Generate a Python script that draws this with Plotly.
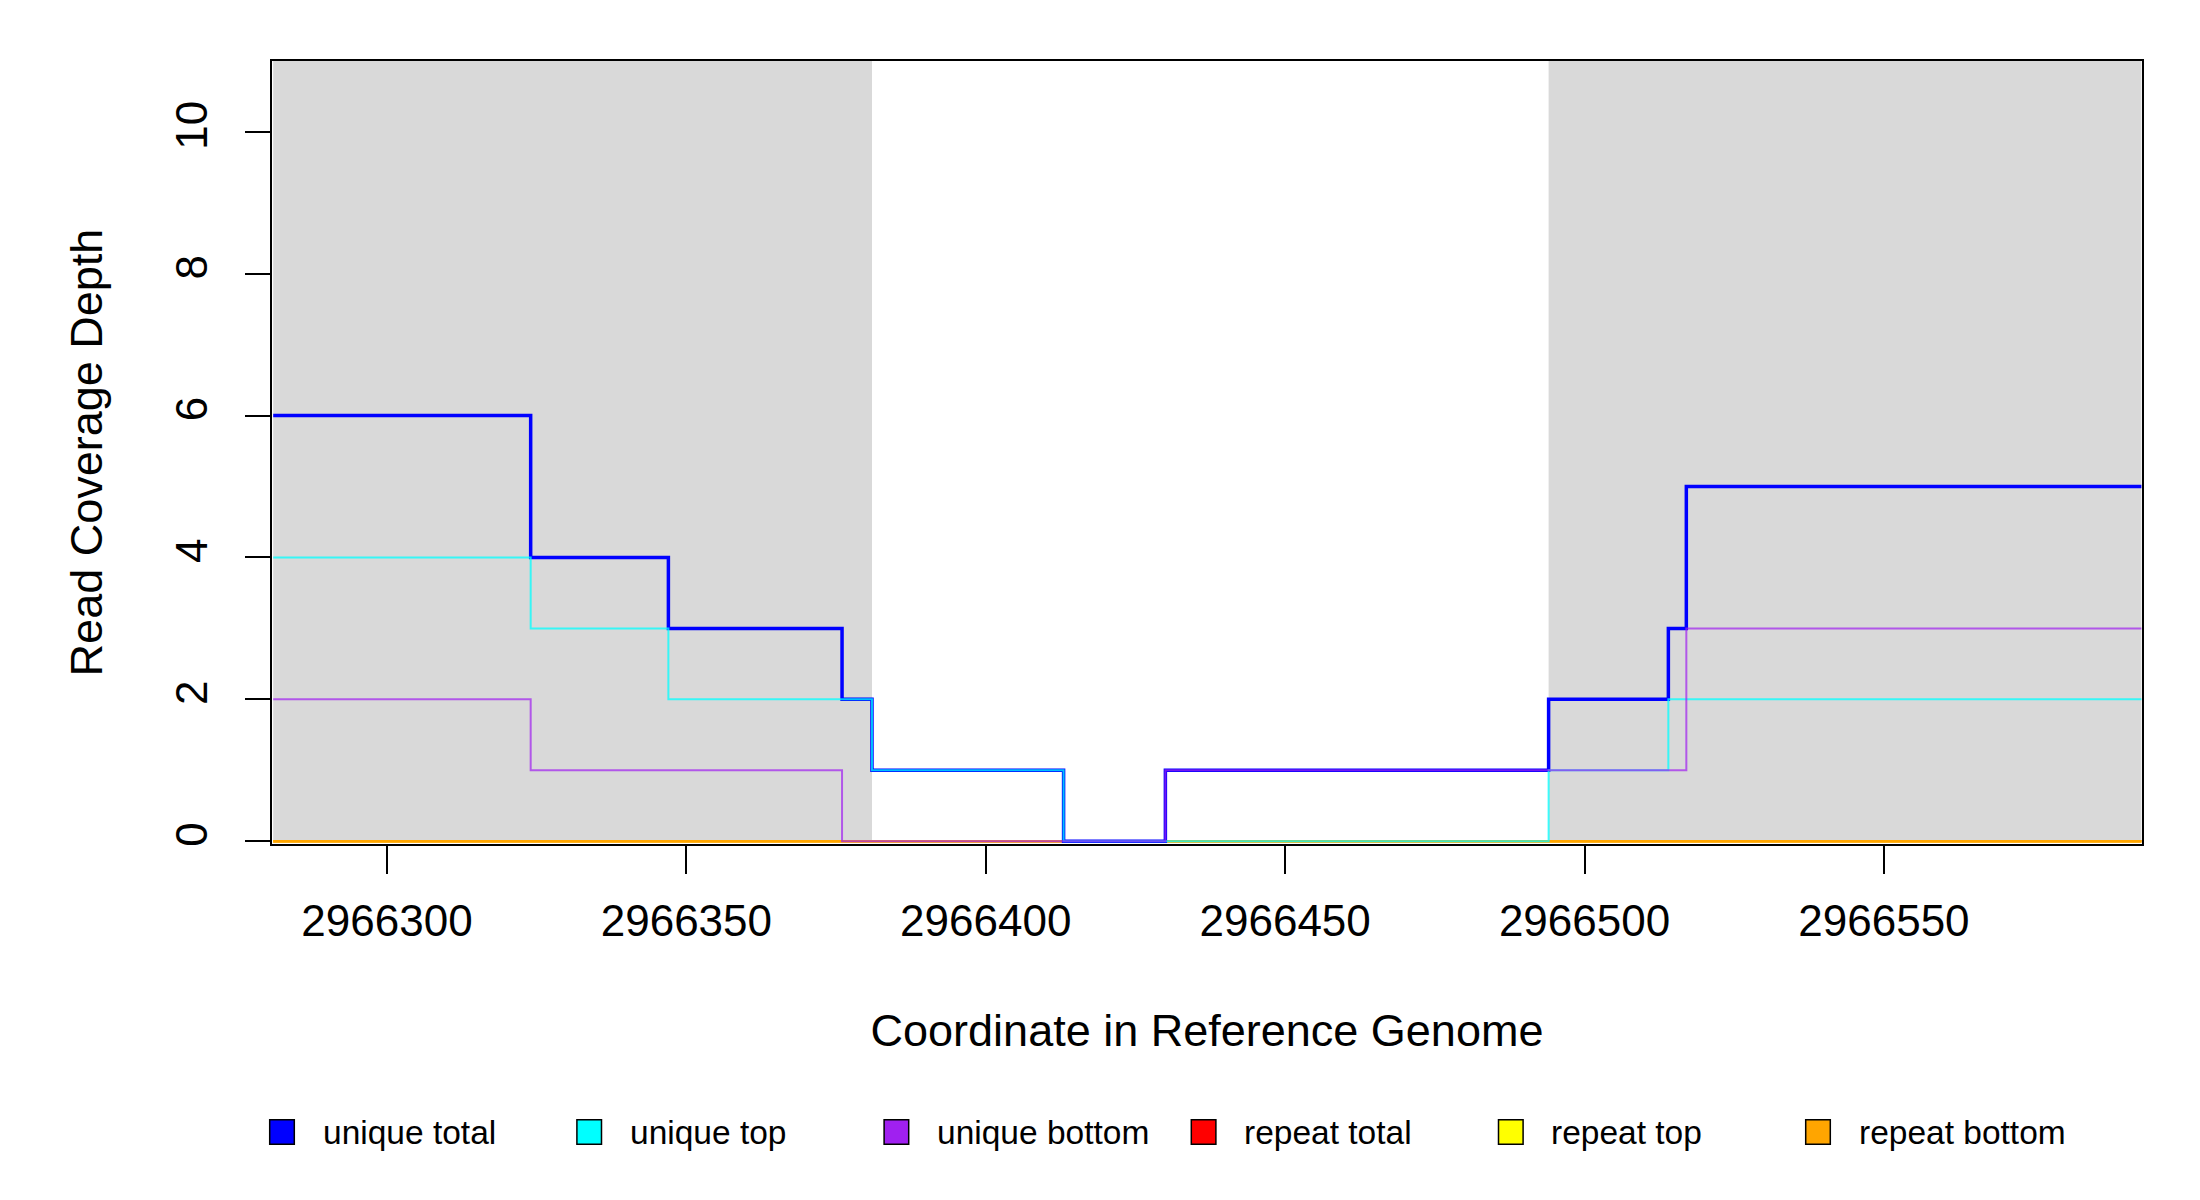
import plotly.graph_objects as go

# ---- data ----
x_range = [2966280.8, 2966593.1]

unique_total_x = [2966281, 2966324, 2966347, 2966376, 2966381, 2966413, 2966430, 2966494, 2966514, 2966517, 2966593]
unique_total_y = [6, 4, 3, 2, 1, 0, 1, 2, 3, 5, 5]

unique_top_x = [2966281, 2966324, 2966347, 2966381, 2966413, 2966494, 2966514, 2966593]
unique_top_y = [4, 3, 2, 1, 0, 1, 2, 2]

unique_bottom_x = [2966281, 2966324, 2966376, 2966430, 2966517, 2966593]
unique_bottom_y = [2, 1, 0, 1, 3, 3]

repeat_x = [2966281, 2966593]
repeat_total_y = [0, 0]
repeat_top_y = [0, 0]
repeat_bottom_y = [0, 0]

shaded_regions = [(2966281, 2966381), (2966494, 2966593)]

x_ticks = [2966300, 2966350, 2966400, 2966450, 2966500, 2966550]
y_ticks = [0, 2, 4, 6, 8, 10]

legend_names = ["unique total", "unique top", "unique bottom", "repeat total", "repeat top", "repeat bottom"]
legend_colors = ["#0000FF", "#00FFFF", "#A020F0", "#FF0000", "#FFFF00", "#FFA500"]

FONT = "Liberation Sans, Arial, sans-serif"

W, H = 2200, 1200
ML, MR, MT, MB = 264, 66, 53, 364
PW, PH = W - ML - MR, H - MT - MB

fig = go.Figure()

# repeat lines (drawn first)
for name, yv, col in [("repeat total", repeat_total_y, "#FF0000"),
                      ("repeat top", repeat_top_y, "#FFFF00"),
                      ("repeat bottom", repeat_bottom_y, "#FFA500")]:
    fig.add_trace(go.Scatter(x=repeat_x, y=yv, mode="lines", name=name,
                             line=dict(color=col, width=2.5, shape="hv"), showlegend=False))

# unique lines
fig.add_trace(go.Scatter(x=unique_total_x, y=unique_total_y, mode="lines", name="unique total",
                         line=dict(color="#0000FF", width=3.5, shape="hv"), showlegend=False))
fig.add_trace(go.Scatter(x=unique_top_x, y=unique_top_y, mode="lines", name="unique top",
                         line=dict(color="rgba(0,255,255,0.75)", width=2, shape="hv"), showlegend=False))
fig.add_trace(go.Scatter(x=unique_bottom_x, y=unique_bottom_y, mode="lines", name="unique bottom",
                         line=dict(color="rgba(160,32,240,0.7)", width=2, shape="hv"), showlegend=False))

shapes = []
for x0, x1 in shaded_regions:
    shapes.append(dict(type="rect", xref="x", yref="y", x0=x0, x1=x1, y0=0, y1=11,
                       fillcolor="#D9D9D9", line=dict(width=0), layer="below"))

# legend drawn as filled squares + text below the plot
annotations = []
leg_y_px = 1124
leg_x0_px = 274
leg_step_px = 307.2
half = 12.3
for i, (name, col) in enumerate(zip(legend_names, legend_colors)):
    cx = leg_x0_px + i * leg_step_px
    shapes.append(dict(type="rect", xref="paper", yref="paper",
                       x0=(cx - half - ML) / PW, x1=(cx + half - ML) / PW,
                       y0=(H - MB - leg_y_px - half) / PH, y1=(H - MB - leg_y_px + half) / PH,
                       fillcolor=col, line=dict(color="black", width=1.5)))
    annotations.append(dict(xref="paper", yref="paper", x=(cx + 38.5 - ML) / PW,
                            y=(H - MB - leg_y_px) / PH, xanchor="left", yanchor="middle",
                            text=name, showarrow=False, font=dict(size=33.5, family=FONT, color="black")))

fig.update_layout(
    width=W, height=H,
    margin=dict(l=ML, r=MR, t=MT, b=MB),
    paper_bgcolor="white", plot_bgcolor="white",
    font=dict(family=FONT, size=44, color="black"),
    shapes=shapes, annotations=annotations,
    showlegend=False,
    xaxis=dict(range=x_range, tickvals=x_ticks, ticktext=[str(v) for v in x_ticks],
               showgrid=False, zeroline=False, showline=True, linecolor="black", linewidth=1.5, mirror=True,
               ticks="outside", ticklen=28, tickwidth=1.5, tickcolor="black",
               tickfont=dict(size=44), ticklabelstandoff=9,
               title=dict(text="Coordinate in Reference Genome", font=dict(size=45), standoff=71)),
    yaxis=dict(range=[-0.04, 11], tickvals=y_ticks, showgrid=False, zeroline=False,
               showline=True, linecolor="black", linewidth=1.5, mirror=True,
               ticks="outside", ticklen=25, tickwidth=1.5, tickcolor="black",
               tickangle=-90, tickfont=dict(size=44), ticklabelstandoff=21,
               title=dict(text="Read Coverage Depth", font=dict(size=45), standoff=50)),
)

fig.write_html("out.html")
